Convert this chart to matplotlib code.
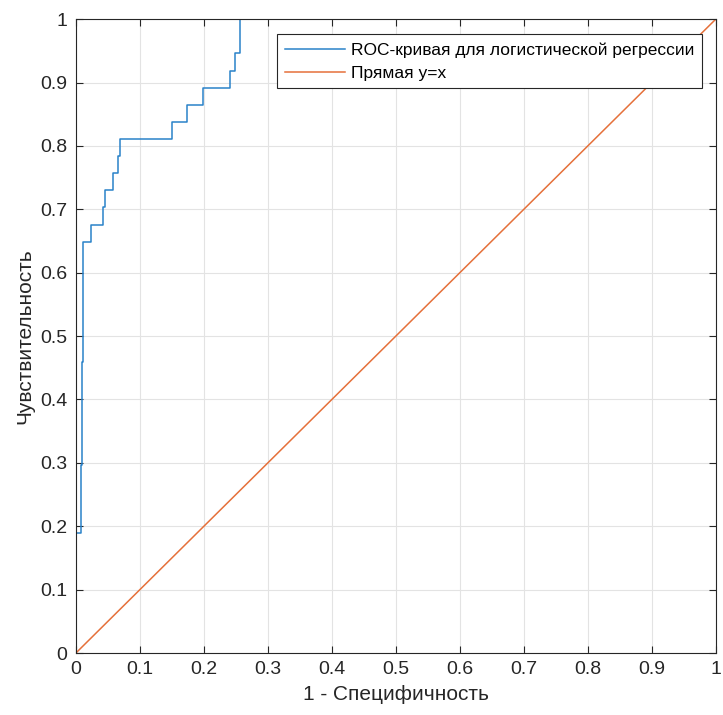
import numpy as np
import matplotlib.pyplot as plt

plt.rcParams['font.family'] = ['Liberation Sans', 'DejaVu Sans']

# ROC curve corner points, drawn as vertical-then-horizontal steps
fpr = [0, 0.0078, 0.0094, 0.0117, 0.0234, 0.0427, 0.046, 0.058, 0.066, 0.069,
       0.15, 0.174, 0.198, 0.241, 0.248, 0.257, 1.0]
tpr = [0, 0.189, 0.297, 0.459, 0.649, 0.676, 0.703, 0.730, 0.757, 0.784,
       0.811, 0.838, 0.865, 0.892, 0.919, 0.946, 1.0]

diag = [0, 1]

ticks = np.round(np.arange(0, 1.01, 0.1), 1)
tick_labels = ['0', '0.1', '0.2', '0.3', '0.4', '0.5', '0.6', '0.7', '0.8', '0.9', '1']

fig = plt.figure(figsize=(7.23, 7.15), dpi=100)
ax = fig.add_axes([0.105, 0.0867, 0.885, 0.8865])

ax.plot(fpr, tpr, drawstyle='steps-pre', color='#2a82c9', lw=1.1,
        label='ROC-кривая для логистической регрессии')
ax.plot(diag, diag, color='#e5703a', lw=1.1, label='Прямая y=x')

ax.set_xlim(0, 1)
ax.set_ylim(0, 1)
ax.set_xticks(ticks)
ax.set_yticks(ticks)
ax.set_xticklabels(tick_labels)
ax.set_yticklabels(tick_labels)
ax.tick_params(direction='in', length=5, width=0.8, labelsize=14,
               colors='#262626', top=True, right=True, pad=6)
for s in ax.spines.values():
    s.set_color('#262626')
    s.set_linewidth(0.8)
ax.grid(True, color='#e3e3e3', lw=0.8)

ax.set_xlabel('1 - Специфичность', fontsize=15, color='#262626', labelpad=5)
ax.set_ylabel('Чувствительность', fontsize=15, color='#262626', labelpad=4)

leg = ax.legend(loc='upper right', bbox_to_anchor=(0.978, 0.976), borderaxespad=0,
                fontsize=12.5, fancybox=False, framealpha=1,
                edgecolor='#262626', handlelength=3.5, handletextpad=0.3,
                borderpad=0.45, labelspacing=0.45)
leg.get_frame().set_linewidth(0.8)

fig.savefig('out.png', dpi=100)
